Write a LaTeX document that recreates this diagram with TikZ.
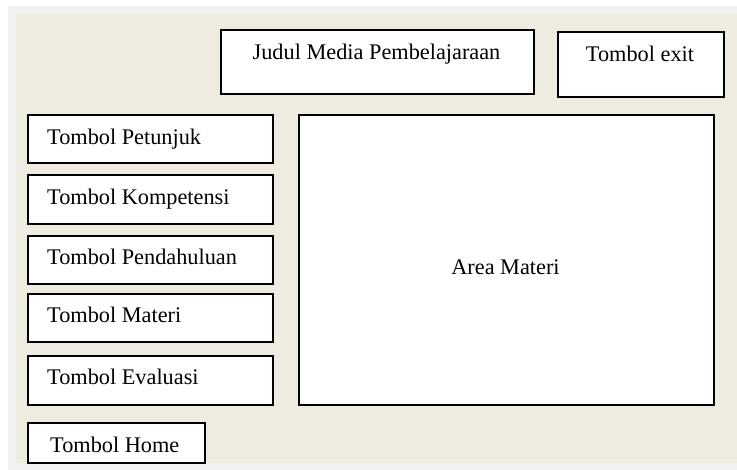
\documentclass[tikz,border=0pt]{standalone}
\usepackage{fontspec}
\setmainfont{Liberation Serif}
\definecolor{bgbeige}{HTML}{EEECE1}
\definecolor{bggray}{HTML}{F2F2F2}
\begin{document}
\begin{tikzpicture}[x=1pt,y=-1pt,
  font=\fontsize{22.3}{26}\selectfont,
  box/.style={draw=black, line width=1.6pt, fill=white, rectangle, anchor=north west, inner sep=0pt},
  btn/.style={box, minimum width=245pt, minimum height=48pt},
  lbl/.style={anchor=base, inner sep=0pt},
  lbll/.style={anchor=base west, inner sep=0pt}]
\useasboundingbox (0,0) rectangle (737,470);
\fill[bggray] (8,6) rectangle (737,470);
\fill[bgbeige] (16,14) rectangle (737,463);
% top
\node[box, minimum width=313pt, minimum height=64pt] (judul) at (220,29) {};
\node[lbl] (judult) at (376.5,60) {Judul Media Pembelajaraan};
\node[box, minimum width=166pt, minimum height=65pt] (exit) at (557,31) {};
\node[lbl] (exitt) at (640,62) {Tombol exit};
% area
\node[box, minimum width=415pt, minimum height=290pt] (area) at (298,114) {};
\node[lbl] (areat) at (505.5,275) {Area Materi};
% left buttons
\node[btn] (pet) at (27,114) {};
\node[lbll] (pett) at (47,145) {Tombol Petunjuk};
\node[btn, minimum height=49pt] (komp) at (27,174) {};
\node[lbll] (kompt) at (47,205) {Tombol Kompetensi};
\node[btn] (pend) at (27,235) {};
\node[lbll] (pendt) at (47,265) {Tombol Pendahuluan};
\node[btn] (mat) at (27,293) {};
\node[lbll] (matt) at (47,323) {Tombol Materi};
\node[btn, minimum height=49pt] (eval) at (27,355) {};
\node[lbll] (evalt) at (47,385) {Tombol Evaluasi};
\node[box, minimum width=177pt, minimum height=40pt] (home) at (27,422) {};
\node[lbll] (homet) at (50,453) {Tombol Home};
\end{tikzpicture}
\end{document}
